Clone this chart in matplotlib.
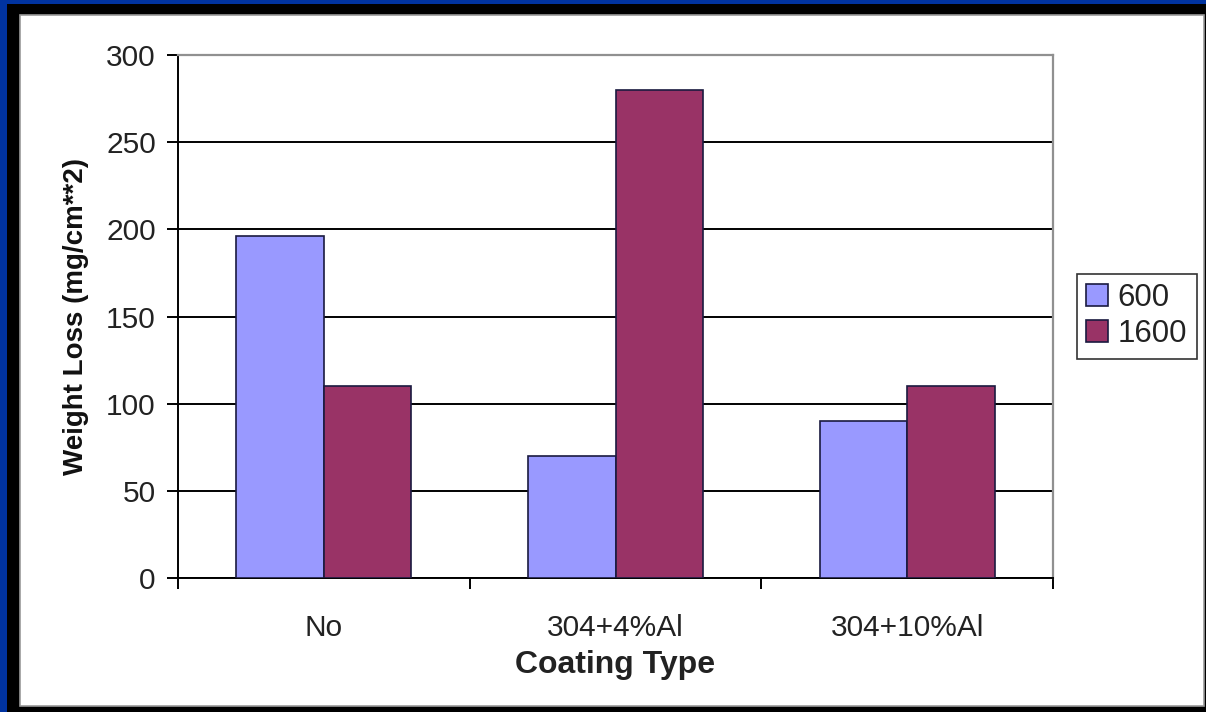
import numpy as np
import matplotlib.pyplot as plt
from matplotlib.patches import Rectangle

plt.rcParams['font.family'] = ['Liberation Sans', 'DejaVu Sans']

coatings = ['No', '304+4%Al', '304+10%Al']
series = ['600', '1600']
loss_600 = [196, 70, 90]
loss_1600 = [110, 280, 110]
colors = ['#9999FF', '#993366']

W, H = 1206, 712
fig = plt.figure(figsize=(W / 100, H / 100), dpi=100)
fig.patch.set_facecolor('#0033A0')

# slide-style frame: blue, then black, then white panel (kept behind the axes)
fig.patches.append(Rectangle((7 / W, 0), 1 - 7 / W, 1 - 4 / H, transform=fig.transFigure,
                             facecolor='black', edgecolor='none', zorder=-3))
fig.patches.append(Rectangle((20 / W, 6 / H), (1204 - 20) / W, (706 - 15) / H,
                             transform=fig.transFigure, facecolor='white',
                             edgecolor='#9a9a9a', linewidth=1.2, zorder=-2))

ax = fig.add_axes([178 / W, (H - 578) / H, (1053 - 178) / W, (578 - 55) / H])
ax.set_facecolor('white')

x = np.arange(len(coatings))
width = 0.3
b1 = ax.bar(x - width / 2, loss_600, width, color=colors[0], edgecolor='#1a1a40',
            linewidth=1.2, label=series[0], zorder=3)
b2 = ax.bar(x + width / 2, loss_1600, width, color=colors[1], edgecolor='#1a1a40',
            linewidth=1.2, label=series[1], zorder=3)

ax.set_xlim(-0.5, 2.5)
ax.set_ylim(0, 300)
ax.set_yticks(np.arange(0, 301, 50))
ax.yaxis.grid(True, color='black', linewidth=1.4, zorder=1)
ax.set_axisbelow(True)

ax.set_xticks(x)
ax.set_xticklabels(coatings)
ax.set_xticks([-0.5, 0.5, 1.5, 2.5], minor=True)
ax.tick_params(axis='x', which='major', length=0, pad=26, labelsize=21.5, labelcolor='#222222')
ax.tick_params(axis='x', which='minor', length=8, width=1.4, direction='out', color='black')
ax.tick_params(axis='y', length=8, width=1.4, direction='out', labelsize=21.5,
               labelcolor='#222222', pad=8)

for side in ['left', 'bottom']:
    ax.spines[side].set_color('black')
    ax.spines[side].set_linewidth(1.4)
for side in ['top', 'right']:
    ax.spines[side].set_color('#909090')
    ax.spines[side].set_linewidth(1.6)

ax.set_ylabel('Weight Loss (mg/cm**2)', fontsize=20, fontweight='bold', labelpad=12,
              color='#111111')
ax.set_xlabel('Coating Type', fontsize=23, fontweight='bold', labelpad=6, color='#222222')

leg = fig.legend(handles=[b1, b2], labels=series, loc='center left',
                 bbox_to_anchor=(1077 / W, (H - 316) / H), fontsize=22.5,
                 frameon=True, fancybox=False, shadow=False, borderpad=0.3,
                 handlelength=0.7, handleheight=0.7, handletextpad=0.3,
                 labelspacing=0.2, borderaxespad=0)
leg.get_frame().set_edgecolor('black')
leg.get_frame().set_linewidth(1.2)
for t in leg.get_texts():
    t.set_color('#222222')

fig.savefig('out.png', dpi=100, facecolor=fig.get_facecolor())
